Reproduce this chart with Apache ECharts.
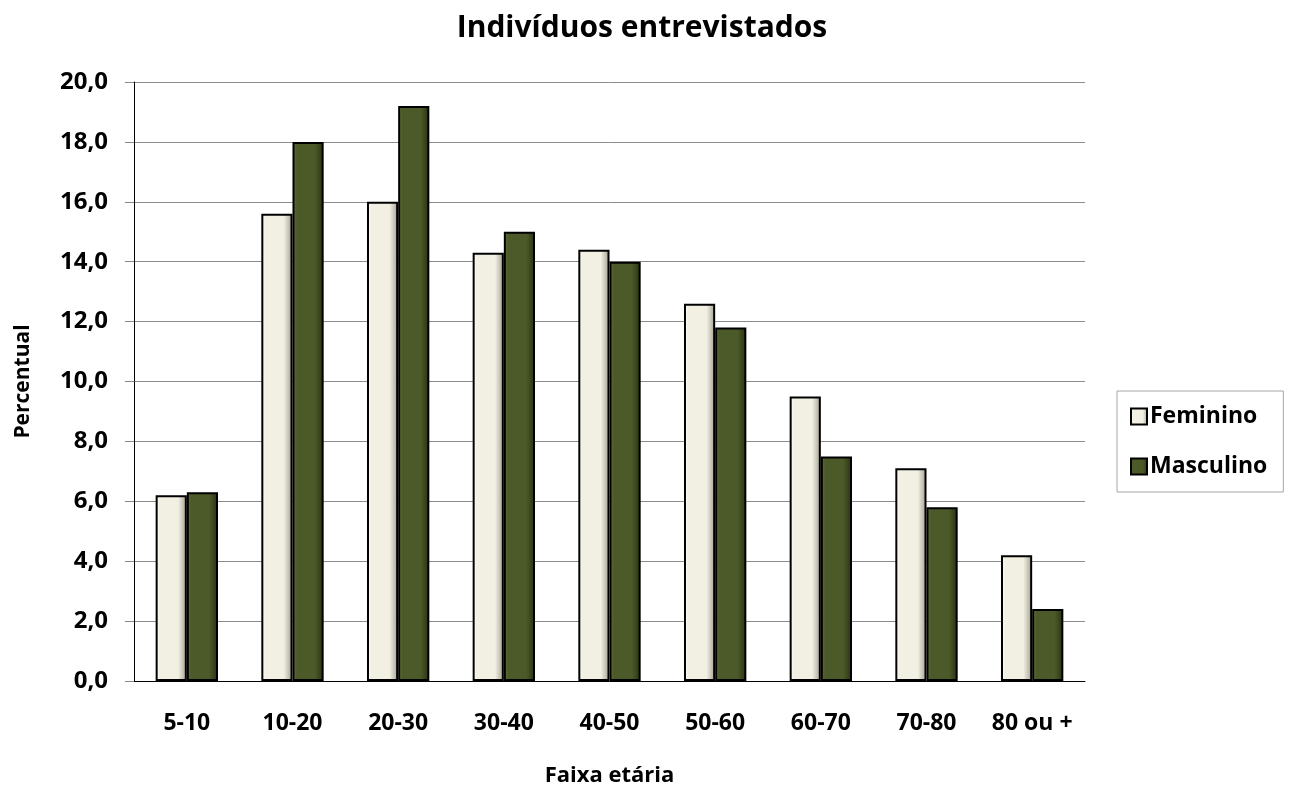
<!DOCTYPE html>
<html>
<head>
<meta charset="utf-8">
<script src="https://cdn.jsdelivr.net/npm/echarts@6/dist/echarts.min.js"></script>
<style>
  html, body { margin: 0; padding: 0; background: #fff; }
  #chart { width: 1295px; height: 790px; }
</style>
</head>
<body>
<div id="chart"></div>
<script>
// Faixas etárias e percentuais por sexo
const categories = ['5-10', '10-20', '20-30', '30-40', '40-50', '50-60', '60-70', '70-80', '80 ou +'];
const feminino = [6.2, 15.6, 16.0, 14.3, 14.4, 12.6, 9.5, 7.1, 4.2];
const masculino = [6.3, 18.0, 19.2, 15.0, 14.0, 11.8, 7.5, 5.8, 2.4];
const yTicks = { min: 0, max: 20, interval: 2 };

const FONT = '"Open Sans", Lato, sans-serif';

// bevelled look: light left edge, flat centre, shaded right edge
function bevel(light, mid, dark) {
  return new echarts.graphic.LinearGradient(0, 0, 1, 0, [
    { offset: 0, color: light },
    { offset: 0.14, color: mid },
    { offset: 0.72, color: mid },
    { offset: 1, color: dark }
  ]);
}

const chart = echarts.init(document.getElementById('chart'), null, { renderer: 'canvas' });

chart.setOption({
  backgroundColor: '#ffffff',
  animation: false,
  title: {
    text: 'Indivíduos entrevistados',
    left: 637,
    top: 8,
    textAlign: 'center',
    textStyle: { fontFamily: FONT, fontWeight: 'bold', fontSize: 30, color: '#000' }
  },
  legend: {
    orient: 'vertical',
    left: 1117,
    top: 391,
    padding: [14, 16, 14, 13],
    itemWidth: 16,
    itemHeight: 16,
    itemGap: 27,
    borderColor: '#a6a6a6',
    borderWidth: 1,
    icon: 'rect',
    textStyle: { fontFamily: FONT, fontWeight: 'bold', fontSize: 23, color: '#000', padding: [0, 0, 0, -2] },
    data: ['Feminino', 'Masculino']
  },
  grid: { left: 134, right: 210, top: 82, bottom: 109, containLabel: false, outerBoundsMode: 'none' },
  xAxis: {
    type: 'category',
    data: categories,
    name: 'Faixa etária',
    nameLocation: 'middle',
    nameGap: 84,
    nameTextStyle: { fontFamily: FONT, fontWeight: 'bold', fontSize: 22, color: '#000' },
    axisLine: { lineStyle: { color: '#000', width: 1 } },
    axisTick: { show: false },
    axisLabel: { fontFamily: FONT, fontWeight: 'bold', fontSize: 23, color: '#000', margin: 31 }
  },
  yAxis: {
    type: 'value',
    min: yTicks.min,
    max: yTicks.max,
    interval: yTicks.interval,
    name: 'Percentual',
    nameLocation: 'middle',
    nameGap: 100,
    nameTextStyle: { fontFamily: FONT, fontWeight: 'bold', fontSize: 21, color: '#000' },
    axisLine: { show: true, lineStyle: { color: '#000', width: 1 } },
    axisTick: { show: true, inside: false, length: 9, lineStyle: { color: '#888' } },
    splitLine: { lineStyle: { color: '#8c8c8c', width: 1 } },
    axisLabel: {
      fontFamily: FONT, fontWeight: 'bold', fontSize: 24, color: '#000', margin: 26,
      formatter: v => v.toFixed(1).replace('.', ',')
    }
  },
  series: [
    {
      name: 'Feminino',
      type: 'bar',
      data: feminino,
      barGap: '0%',
      barCategoryGap: '41%',
      itemStyle: {
        color: bevel('#ffffff', '#f2f0e2', '#9f9d8f'),
        borderColor: '#000',
        borderWidth: 2
      }
    },
    {
      name: 'Masculino',
      type: 'bar',
      data: masculino,
      barGap: '0%',
      barCategoryGap: '41%',
      itemStyle: {
        color: bevel('#63743a', '#4b5a28', '#283112'),
        borderColor: '#000',
        borderWidth: 2
      }
    }
  ]
});
</script>
</body>
</html>
